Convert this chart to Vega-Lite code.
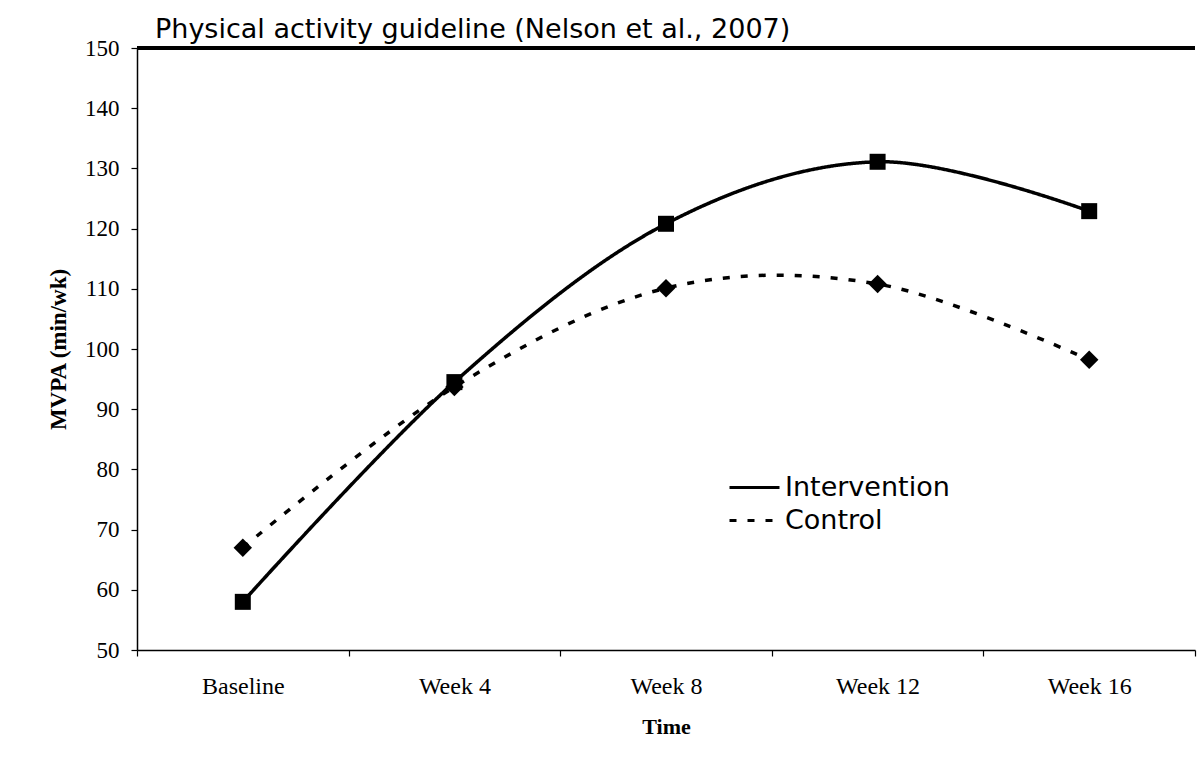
{
  "$schema": "https://vega.github.io/schema/vega-lite/v6.json",
  "width": 1058,
  "height": 602,
  "autosize": "none",
  "padding": {"left": 137, "top": 48, "right": 6, "bottom": 127},
  "background": "white",
  "config": {
    "view": {"stroke": null},
    "axis": {"domainColor": "black", "tickColor": "black", "labelColor": "black", "titleColor": "black", "grid": false, "domainWidth": 1.5, "tickWidth": 1.2}
  },
  "data": {
    "values": [
      {"time": "Baseline", "group": "Intervention", "mvpa": 58},
      {"time": "Week 4", "group": "Intervention", "mvpa": 94.5},
      {"time": "Week 8", "group": "Intervention", "mvpa": 120.8},
      {"time": "Week 12", "group": "Intervention", "mvpa": 131.1},
      {"time": "Week 16", "group": "Intervention", "mvpa": 122.9},
      {"time": "Baseline", "group": "Control", "mvpa": 67},
      {"time": "Week 4", "group": "Control", "mvpa": 93.7},
      {"time": "Week 8", "group": "Control", "mvpa": 110.1},
      {"time": "Week 12", "group": "Control", "mvpa": 110.8},
      {"time": "Week 16", "group": "Control", "mvpa": 98.2}
    ]
  },
  "encoding": {
    "x": {
      "field": "time", "type": "nominal",
      "sort": ["Baseline", "Week 4", "Week 8", "Week 12", "Week 16"],
      "scale": {"type": "band", "paddingInner": 0, "paddingOuter": 0},
      "axis": {"title": "Time", "labelAngle": 0, "tickBand": "extent", "tickSize": 6, "labelPadding": 18,
               "labelFont": "Liberation Serif", "labelFontSize": 24,
               "titleFont": "Liberation Serif", "titleFontSize": 22, "titleFontWeight": "bold", "titlePadding": 18}
    },
    "y": {
      "field": "mvpa", "type": "quantitative",
      "scale": {"domain": [50, 150], "nice": false, "zero": false},
      "axis": {"title": "MVPA (min/wk)", "values": [50, 60, 70, 80, 90, 100, 110, 120, 130, 140, 150], "tickSize": 6, "labelPadding": 12,
               "labelFont": "Liberation Serif", "labelFontSize": 23,
               "titleFont": "Liberation Serif", "titleFontSize": 23, "titleFontWeight": "bold", "titlePadding": 14}
    }
  },
  "layer": [
    {
      "data": {"values": [{"level": 150, "label": "Physical activity guideline (Nelson et al., 2007)", "time": "Baseline"}]},
      "mark": {"type": "rule", "strokeWidth": 4, "color": "black"},
      "encoding": {"y": {"field": "level", "type": "quantitative"}, "x": null}
    },
    {
      "data": {"values": [{"level": 150, "label": "Physical activity guideline (Nelson et al., 2007)", "time": "Baseline"}]},
      "mark": {"type": "text", "font": "DejaVu Sans", "fontSize": 27, "align": "left", "baseline": "alphabetic", "dx": 18, "dy": -10, "color": "black"},
      "encoding": {
        "x": {"field": "time", "type": "nominal", "bandPosition": 0},
        "y": {"field": "level", "type": "quantitative"},
        "text": {"field": "label"}
      }
    },
    {
      "mark": {"type": "line", "interpolate": "cardinal", "strokeWidth": 3.5, "color": "black"},
      "encoding": {
        "strokeDash": {
          "field": "group", "type": "nominal",
          "scale": {"domain": ["Intervention", "Control"], "range": [[1, 0], [7, 11]]},
          "legend": {"title": null, "orient": "none", "legendX": 591, "legendY": 423, "symbolType": "stroke", "symbolSize": 2500,
                     "symbolStrokeWidth": 3, "symbolStrokeColor": "black", "labelFont": "DejaVu Sans", "labelFontSize": 27, "labelColor": "black",
                     "labelOffset": 4, "labelLimit": 400, "clipHeight": 33, "rowPadding": 0, "padding": 0}
        }
      }
    },
    {
      "transform": [{"filter": "datum.group === 'Intervention'"}],
      "mark": {"type": "point", "filled": true, "opacity": 1, "color": "black", "shape": "square", "size": 256}
    },
    {
      "transform": [{"filter": "datum.group === 'Control'"}],
      "mark": {"type": "point", "filled": true, "opacity": 1, "color": "black", "shape": "diamond", "size": 340}
    }
  ]
}
